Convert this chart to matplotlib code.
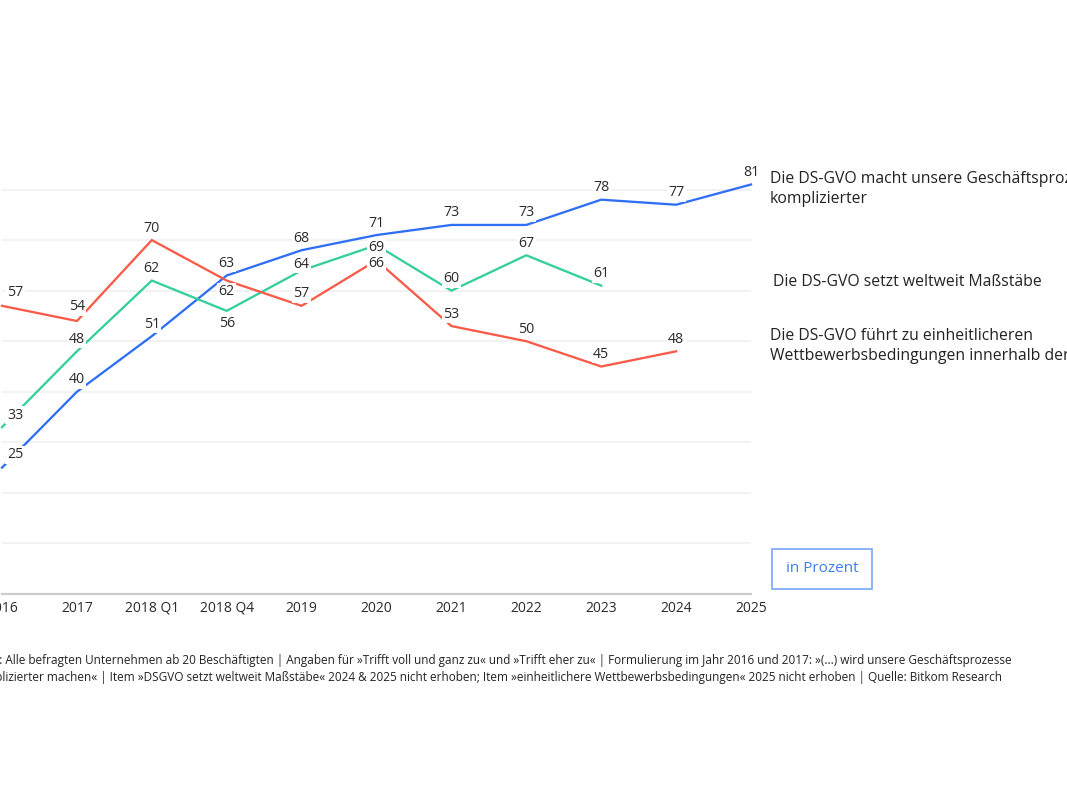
import matplotlib
matplotlib.use("Agg")
import matplotlib.pyplot as plt
import numpy as np
from matplotlib.patches import Rectangle

plt.rcParams['font.family'] = ['Open Sans', 'DejaVu Sans']

# Daten
jahre = ["2016", "2017", "2018 Q1", "2018 Q4", "2019", "2020",
         "2021", "2022", "2023", "2024", "2025"]
komplizierter = [25, 40, 51, 63, 68, 71, 73, 73, 78, 77, 81]
massstaebe = [33, 48, 62, 56, 64, 69, 60, 67, 61, np.nan, np.nan]
wettbewerb = [57, 54, 70, 62, 57, 66, 53, 50, 45, 48, np.nan]

namen = ["Die DS-GVO macht unsere Geschäftsprozesse\nkomplizierter",
         "Die DS-GVO setzt weltweit Maßstäbe",
         "Die DS-GVO führt zu einheitlicheren\nWettbewerbsbedingungen innerhalb der EU"]

fussnote = ("Basis: Alle befragten Unternehmen ab 20 Beschäftigten | Angaben für »Trifft voll und ganz zu« "
            "und »Trifft eher zu« | Formulierung im Jahr 2016 und 2017: »(...) wird unsere Geschäftsprozesse\n"
            "komplizierter machen« | Item »DSGVO setzt weltweit Maßstäbe« 2024 & 2025 nicht erhoben; "
            "Item »einheitlichere Wettbewerbsbedingungen« 2025 nicht erhoben | Quelle: Bitkom Research")

blau = '#2f6ff3'
gruen = '#34cf9c'
rot = '#fa5a48'
textfarbe = '#2a2a2a'

W, H = 1067, 800
fig = plt.figure(figsize=(W/100, H/100), dpi=100)
# Achse in Pixeln: 2016 bei x=2, 2025 bei x=751, 0 bei y=594, 90 bei y=139
ax = fig.add_axes([2/W, 1-594/H, 749/W, 455/H])
ax.set_xlim(0, len(jahre)-1)
ax.set_ylim(0, 90)

x = np.arange(len(jahre))

# Gitterlinien
for g in range(10, 90, 10):
    ax.axhline(g, color='#f1f1f1', lw=1.3, zorder=0)

# Versatz der Werte-Labels (Pixel), Standard: 12 nach oben
versatz = {
    0: {0: (13, 13)},
    1: {0: (13, 12), 3: (0, -13), 4: (0, 6), 5: (0, -2)},
    2: {0: (13, 13), 1: (0, 14), 3: (0, -11), 5: (0, -3)},
}

serien = [komplizierter, massstaebe, wettbewerb]
farben = [blau, gruen, rot]
for werte, farbe in zip(serien, farben):
    ax.plot(x, werte, color=farbe, lw=1.65, zorder=2, solid_joinstyle='miter', clip_on=False)
for k, werte in enumerate(serien):
    for i, v in enumerate(werte):
        if np.isnan(v):
            continue
        dx, dy = versatz[k].get(i, (0, 12))
        ax.annotate(str(int(v)), (i, v), xytext=(dx, dy), textcoords='offset pixels',
                    ha='center', va='center', fontsize=10.2, color=textfarbe, zorder=3,
                    bbox=dict(boxstyle='square,pad=0.1', fc='white', ec='none'))

ax.set_xticks(x)
ax.set_xticklabels(jahre, fontsize=10, color=textfarbe)
ax.set_yticks([])
ax.tick_params(axis='x', length=0, pad=5)
for s in ['top', 'left', 'right']:
    ax.spines[s].set_visible(False)
ax.spines['bottom'].set_color('#cccccc')
ax.spines['bottom'].set_linewidth(1.6)

# Serienbeschriftungen rechts
fig.text(770/W, 1-189/H, namen[0], fontsize=11.3, color='#222222', va='center', linespacing=1.3)
fig.text(773/W, 1-282/H, namen[1], fontsize=11.3, color='#222222', va='center')
fig.text(770/W, 1-346/H, namen[2], fontsize=11.3, color='#222222', va='center', linespacing=1.3)

# Einheit
fig.patches.append(Rectangle((772/W, 1-589/H), 100/W, 40/H, transform=fig.transFigure,
                             fill=False, ec='#7aa6fa', lw=1.2))
fig.text(822/W, 1-569/H, "in Prozent", fontsize=11, color='#3f7cf2', ha='center', va='center')

# Fussnote
fig.text(-29/W, 1-669/H, fussnote, fontsize=8.45, color='#222222', va='center', linespacing=1.45)

fig.savefig("out.png", dpi=100)
